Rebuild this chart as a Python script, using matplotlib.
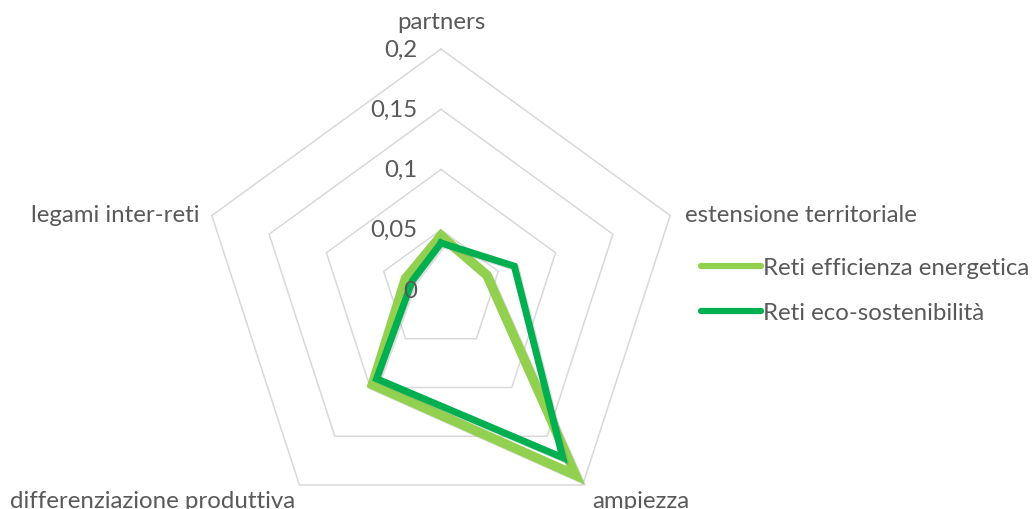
import numpy as np
import matplotlib
matplotlib.use("Agg")
import matplotlib.pyplot as plt
from matplotlib import patheffects as pe
from matplotlib.lines import Line2D

categories = ["partners", "estensione territoriale", "ampiezza",
              "differenziazione produttiva", "legami inter-reti"]
series_names = ["Reti efficienza energetica", "Reti eco-sostenibilità"]
efficienza = [0.045, 0.040, 0.190, 0.097, 0.031]
eco_sost = [0.039, 0.064, 0.172, 0.091, 0.025]
tick_values = [0, 0.05, 0.1, 0.15, 0.2]
tick_labels = ["0", "0,05", "0,1", "0,15", "0,2"]

light = "#92D050"
dark = "#00B050"
grid_col = "#D9D9D9"
text_col = "#595959"
fs = 17.3

plt.rcParams["font.family"] = ["Lato", "DejaVu Sans"]

fig = plt.figure(figsize=(10.35, 5.1), dpi=100)
# polar axes placed so the centre sits where the reference has it
ax = fig.add_axes([0.1932, -0.0431, 0.4658, 0.945], projection="polar")
ax.set_theta_zero_location("N")
ax.set_theta_direction(-1)
ax.set_ylim(0, 0.2)
ax.axis("off")

n = len(categories)
angles = np.linspace(0, 2 * np.pi, n, endpoint=False)
closed = np.append(angles, angles[0])

# pentagon grid
for v in tick_values[1:]:
    ax.plot(closed, [v] * (n + 1), color=grid_col, lw=1.1, clip_on=False, zorder=1)

shadow = [pe.SimpleLineShadow(offset=(1.2, -1.2), shadow_color="#7f7f7f", alpha=0.25),
          pe.Normal()]
for vals, col, lw in [(efficienza, light, 6.8), (eco_sost, dark, 5.0)]:
    ax.plot(closed, list(vals) + [vals[0]], color=col, lw=lw,
            solid_joinstyle="miter", clip_on=False, zorder=3,
            path_effects=shadow)

# radial value labels
for v, lab in zip(tick_values, tick_labels):
    ax.annotate(lab, xy=(0, v), xytext=(-24, 0), textcoords="offset pixels",
                ha="right", va="center", fontsize=fs, color=text_col, zorder=5)

# category labels
offsets = [((0, 28), "center"), ((15, 1), "left"), ((10, -16), "left"),
           ((-4, -16), "right"), ((-12, 1), "right")]
for ang, cat, (off, ha) in zip(angles, categories, offsets):
    ax.annotate(cat, xy=(ang, 0.2), xytext=off, textcoords="offset pixels",
                ha=ha, va="center", fontsize=fs, color=text_col,
                annotation_clip=False)

handles = [Line2D([], [], color=light, lw=4.5, solid_capstyle="round"),
           Line2D([], [], color=dark, lw=4.5, solid_capstyle="round")]
leg = fig.legend(handles, series_names, loc="upper left",
                 bbox_to_anchor=(701 / 1035, 1 - 258 / 510), frameon=False,
                 fontsize=fs, handlelength=2.5, handletextpad=0.1,
                 labelspacing=1.0, borderpad=0, borderaxespad=0)
for t in leg.get_texts():
    t.set_color(text_col)

fig.savefig("out.png", dpi=100, facecolor="white")
